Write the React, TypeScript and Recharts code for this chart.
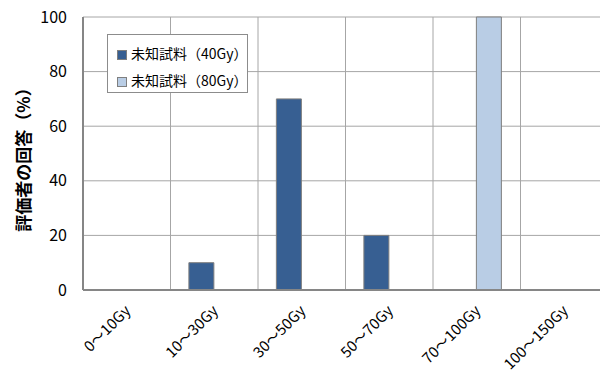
import React from 'react';
import { BarChart, Bar, XAxis, YAxis, CartesianGrid, Legend } from 'recharts';

// Dose ranges (categories on the x axis)
const doseRanges = ['0～10Gy', '10～30Gy', '30～50Gy', '50～70Gy', '70～100Gy', '100～150Gy'];
// Share of evaluators (%) answering each range, per unknown sample
const sample40Gy = [0, 10, 70, 20, 0, 0];
const sample80Gy = [0, 0, 0, 0, 100, 0];
// Y axis ticks
const yTicks = [0, 20, 40, 60, 80, 100];

const seriesNames = ['未知試料（40Gy）', '未知試料（80Gy）'];
const seriesColors = ['#375F92', '#B9CDE5'];

const data = doseRanges.map((range, i) => ({
  range,
  s40: sample40Gy[i],
  s80: sample80Gy[i],
}));

const FONT = "'Noto Sans CJK JP', 'Noto Sans', sans-serif";

const XTick = (props: any) => {
  const { x, y, payload } = props;
  const ax = x + 1;
  const ay = y + 10;
  return (
    <text
      x={ax}
      y={ay}
      transform={`rotate(-45, ${ax}, ${ay})`}
      textAnchor="end"
      dy="0.35em"
      fontSize={15}
      fontFamily={FONT}
      fill="#000"
    >
      {payload.value}
    </text>
  );
};

const YTitle = (props: any) => {
  const { viewBox } = props;
  const cx = 22;
  const cy = viewBox.y + viewBox.height / 2 + 2;
  return (
    <text
      x={cx}
      y={cy}
      transform={`rotate(-90, ${cx}, ${cy})`}
      textAnchor="middle"
      dominantBaseline="central"
      fontSize={17}
      fontWeight="bold"
      fontFamily={FONT}
      fill="#000"
    >
      評価者の回答（%）
    </text>
  );
};

const LegendBox = (props: any) => {
  const { payload } = props;
  return (
    <div
      style={{
        width: 141,
        height: 59,
        boxSizing: 'border-box',
        border: '1px solid #8c8c8c',
        background: '#fff',
        padding: '5px 0 0 9px',
        fontFamily: FONT,
        fontSize: 14,
        color: '#000',
      }}
    >
      {(payload || []).map((p: any, i: number) => (
        <div
          key={i}
          style={{ display: 'flex', alignItems: 'center', height: 27, lineHeight: '27px' }}
        >
          <span
            style={{
              display: 'inline-block',
              width: 8,
              height: 8,
              background: p.color,
              border: '1px solid #7f7f7f',
              marginRight: 4,
              marginTop: 3,
            }}
          />
          <span>{p.value}</span>
        </div>
      ))}
    </div>
  );
};

export default function App() {
  return (
    <div
      style={{
        position: 'absolute',
        left: 0,
        top: 0,
        width: 600,
        height: 376,
        overflow: 'hidden',
        background: '#fff',
      }}
    >
      <BarChart
        width={620}
        height={376}
        data={data}
        margin={{ top: 17, right: 12, bottom: 0, left: 0 }}
        barCategoryGap="21%"
        barGap={0}
      >
        <CartesianGrid
          stroke="#a6a6a6"
          strokeWidth={1}
          verticalCoordinatesGenerator={({ offset }: any) =>
            doseRanges.slice(1).map((_, i) => offset.left + ((i + 1) * offset.width) / doseRanges.length)
          }
        />
        <XAxis
          dataKey="range"
          height={86}
          tickLine={false}
          axisLine={{ stroke: '#868686', strokeWidth: 2 }}
          tick={<XTick />}
          interval={0}
        />
        <YAxis
          width={83}
          domain={[0, 100]}
          ticks={yTicks}
          tickLine={false}
          tickMargin={10}
          axisLine={{ stroke: '#868686', strokeWidth: 2 }}
          tick={{ fontSize: 16, fontFamily: FONT, fill: '#000' }}
          label={<YTitle />}
        />
        <Legend
          layout="vertical"
          align="center"
          verticalAlign="middle"
          content={<LegendBox />}
          wrapperStyle={{ position: 'absolute', left: 107, top: 34, width: 141, height: 59 }}
        />
        <Bar
          dataKey="s40"
          name={seriesNames[0]}
          fill={seriesColors[0]}
          stroke="#7f7f7f"
          strokeWidth={1}
          isAnimationActive={false}
        />
        <Bar
          dataKey="s80"
          name={seriesNames[1]}
          fill={seriesColors[1]}
          stroke="#7f7f7f"
          strokeWidth={1}
          isAnimationActive={false}
        />
      </BarChart>
    </div>
  );
}
